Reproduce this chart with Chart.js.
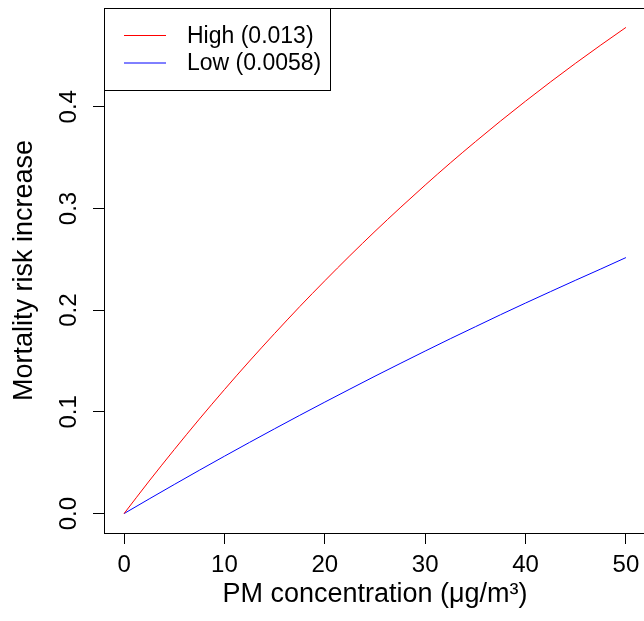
<!DOCTYPE html>
<html>
<head>
<meta charset="utf-8">
<script src="https://cdn.jsdelivr.net/npm/chart.js@4/dist/chart.umd.min.js"></script>
<style>
  html, body { margin: 0; padding: 0; overflow: hidden; background: #fff; }
  #wrap { width: 650px; height: 621px; }
</style>
</head>
<body>
<div id="wrap"><canvas id="riskChart"></canvas></div>
<script>
// PM concentration (x) and read-off risk values
const concentration = [0, 2.5, 5, 7.5, 10, 12.5, 15, 17.5, 20, 22.5, 25,
                       27.5, 30, 32.5, 35, 37.5, 40, 42.5, 45, 47.5, 50];
const highRisk = [0, 0.0320, 0.0629, 0.0929, 0.1219, 0.1500, 0.1771, 0.2035, 0.2289, 0.2536, 0.2775,
                  0.3006, 0.3230, 0.3447, 0.3656, 0.3859, 0.4055, 0.4245, 0.4429, 0.4607, 0.4780];
const lowRisk  = [0, 0.0144, 0.0286, 0.0426, 0.0564, 0.0700, 0.0834, 0.0966, 0.1096, 0.1224, 0.1351,
                  0.1475, 0.1598, 0.1719, 0.1837, 0.1955, 0.2070, 0.2183, 0.2295, 0.2405, 0.2517];
const seriesNames = ["High (0.013)", "Low (0.0058)"];
const xTicks = [0, 10, 20, 30, 40, 50];
const yTicks = [0, 0.1, 0.2, 0.3, 0.4];

Chart.defaults.font.family = '"Liberation Sans", Arial, Helvetica, sans-serif';
Chart.defaults.color = '#000';

function toPoints(xs, ys) {
    let pts = [];
    for (let i = 0; i < xs.length; i++) {
        pts.push({x: xs[i], y: ys[i]});
    }
    return pts;
}

// box round the plot region + legend in the top-left corner
const boxAndLegend = {
    id: 'boxAndLegend',
    afterDraw(chart) {
        const ctx = chart.ctx;
        const a = chart.chartArea;
        ctx.save();
        ctx.strokeStyle = '#000';
        ctx.lineWidth = 1;
        ctx.strokeRect(Math.round(a.left) + 0.5, Math.round(a.top) + 0.5,
            Math.round(a.right - a.left), Math.round(a.bottom - a.top));

        // legend
        const lx = Math.round(a.left) + 0.5;
        const ly = Math.round(a.top) + 0.5;
        ctx.fillStyle = '#fff';
        ctx.fillRect(lx, ly, 226, 82);
        ctx.strokeRect(lx, ly, 226, 82);
        ctx.font = '23px "Liberation Sans", Arial, Helvetica, sans-serif';
        ctx.textBaseline = 'middle';
        ctx.textAlign = 'left';
        chart.data.datasets.forEach((ds, i) => {
            const yy = a.top + 27.5 + i * 27.5;
            ctx.strokeStyle = ds.borderColor;
            ctx.beginPath();
            ctx.moveTo(a.left + 20, yy);
            ctx.lineTo(a.left + 62, yy);
            ctx.stroke();
            ctx.fillStyle = '#000';
            ctx.fillText(ds.label, a.left + 83, yy + 1);
        });
        ctx.restore();
    }
};

new Chart(document.getElementById("riskChart"), {
    type: 'line',
    data: {
        datasets: [
            {
                label: seriesNames[0],
                data: toPoints(concentration, highRisk),
                borderColor: '#ff0000',
                borderWidth: 1,
                pointRadius: 0,
                cubicInterpolationMode: 'monotone'
            },
            {
                label: seriesNames[1],
                data: toPoints(concentration, lowRisk),
                borderColor: '#0000ff',
                borderWidth: 1,
                pointRadius: 0,
                cubicInterpolationMode: 'monotone'
            }
        ]
    },
    options: {
        responsive: true,
        maintainAspectRatio: false,
        devicePixelRatio: 1,
        animation: false,
        layout: { padding: { left: 0, top: 8, right: 4, bottom: 0 } },
        plugins: {
            legend: { display: false },
            tooltip: { enabled: false }
        },
        scales: {
            x: {
                type: 'linear',
                min: -2,
                max: 52,
                afterBuildTicks: (s) => { s.ticks = xTicks.map(v => ({value: v})); },
                afterFit: (s) => { s.height = 88; s.paddingLeft = 0; s.paddingRight = 0; },
                border: { display: false },
                grid: { drawOnChartArea: false, drawTicks: true, tickLength: 11, color: '#000', tickColor: '#000' },
                ticks: { font: { size: 24 }, padding: 7, autoSkip: false, maxRotation: 0 },
                title: {
                    display: true,
                    text: 'PM concentration (\u03bcg/m\u00b3)',
                    font: { size: 27 },
                    padding: { top: 0, bottom: 10 }
                }
            },
            y: {
                type: 'linear',
                min: -0.0191,
                max: 0.4971,
                afterBuildTicks: (s) => { s.ticks = yTicks.map(v => ({value: v})); },
                afterFit: (s) => { s.width = 104; s.paddingTop = 0; s.paddingBottom = 0; },
                border: { display: false },
                grid: { drawOnChartArea: false, drawTicks: true, tickLength: 11, color: '#000', tickColor: '#000' },
                ticks: {
                    font: { size: 24 },
                    padding: 7,
                    autoSkip: false,
                    minRotation: 90,
                    maxRotation: 90,
                    crossAlign: 'center',
                    callback: (v) => v.toFixed(1)
                },
                title: {
                    display: true,
                    text: 'Mortality risk increase',
                    font: { size: 27 },
                    padding: { top: 8, bottom: 0 }
                }
            }
        }
    },
    plugins: [boxAndLegend]
});
</script>
</body>
</html>
